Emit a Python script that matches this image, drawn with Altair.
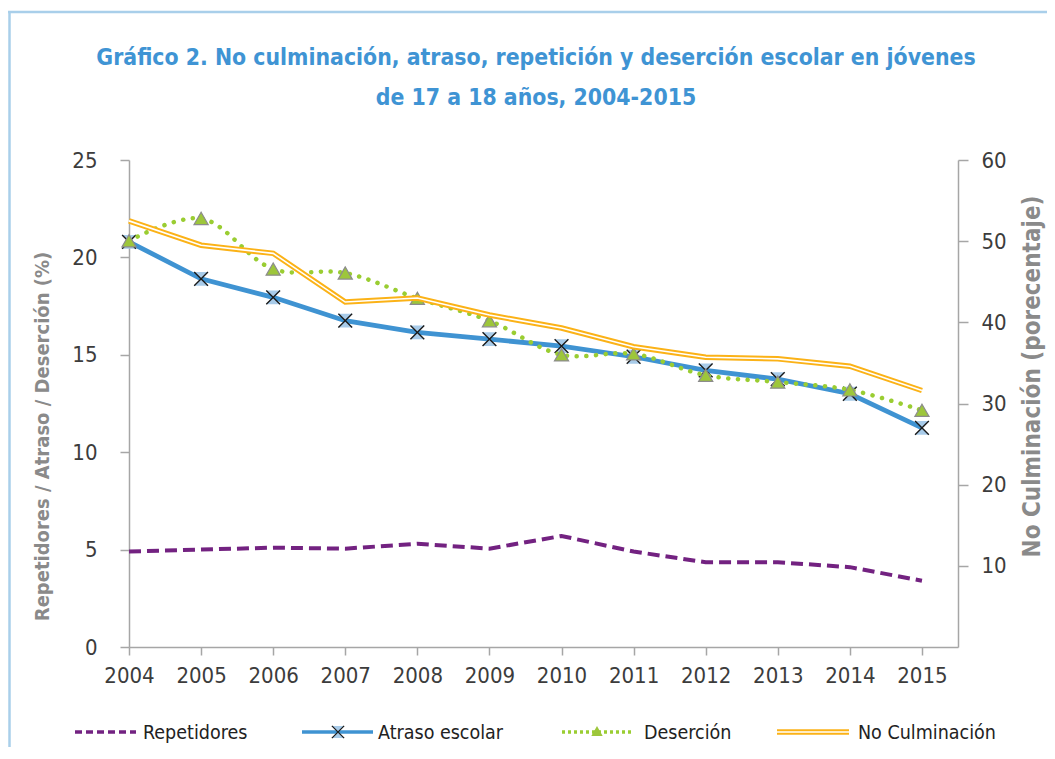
import altair as alt
import pandas as pd

# ---------------- data ----------------
years = [2004, 2005, 2006, 2007, 2008, 2009, 2010, 2011, 2012, 2013, 2014, 2015]
repetidores = [4.9, 5.0, 5.1, 5.05, 5.3, 5.05, 5.7, 4.9, 4.35, 4.35, 4.1, 3.4]
atraso = [20.8, 18.9, 17.95, 16.75, 16.15, 15.8, 15.45, 14.9, 14.2, 13.75, 13.0, 11.25]
desercion = [20.85, 22.0, 19.4, 19.2, 17.9, 16.75, 15.0, 15.05, 13.95, 13.6, 13.2, 12.15]
no_culminacion = [52.5, 49.5, 48.5, 42.5, 43.0, 40.9, 39.3, 37.0, 35.7, 35.5, 34.6, 31.6]

series_names = ["Repetidores", "Atraso escolar", "Deserción", "No Culminación"]
title_lines = [
    "Gráfico 2. No culminación, atraso, repetición y deserción escolar en jóvenes",
    "de 17 a 18 años, 2004-2015",
]
left_title = "Repetidores / Atraso / Deserción (%)"
right_title = "No Culminación (porecentaje)"
left_ticks = [0, 5, 10, 15, 20, 25]
right_ticks = [10, 20, 30, 40, 50, 60]

df = pd.DataFrame({
    "year": years,
    "rep": repetidores,
    "atr": atraso,
    "des": desercion,
    "noc": no_culminacion,
})

# ---------------- style ----------------
FONT = "Liberation Sans Narrow, Arial Narrow, DejaVu Sans Condensed, sans-serif"
AXIS_GRAY = "#a6a6a6"
LABEL_COLOR = "#3c3c3c"
TITLE_BLUE = "#3f94d4"
PURPLE = "#732281"
BLUE = "#3f93d2"
BLUE_FILL = "#a8cbe9"
GREEN = "#9acd32"
TRI_GREEN = "#9dc63b"
ORANGE = "#fbb217"
FRAME = "#a9cfea"

W, H = 829, 487

x_enc = alt.X(
    "year:Q",
    scale=alt.Scale(domain=[2004, 2015.5], nice=False, zero=False),
    axis=alt.Axis(
        values=years, format="d", title=None, grid=False,
        domainColor=AXIS_GRAY, domainWidth=1.5, tickColor=AXIS_GRAY, tickWidth=1.5,
        tickSize=8, labelFont=FONT, labelFontSize=22, labelColor=LABEL_COLOR,
        labelPadding=10, labelFlush=False,
    ),
)

left_scale = alt.Scale(domain=[0, 25], nice=False, zero=True)
left_axis = alt.Axis(
    orient="left", values=left_ticks, title=left_title, grid=False,
    domainColor=AXIS_GRAY, domainWidth=1.5, tickColor=AXIS_GRAY, tickWidth=1.5,
    tickSize=9, labelFont=FONT, labelFontSize=22, labelColor=LABEL_COLOR,
    labelPadding=23, titleFont=FONT, titleFontSize=20, titleFontWeight="bold",
    titleColor="#8a8a8a", titleAngle=270, titleAlign="center", titleBaseline="middle",
    titleX=-87, titleY=276,
)
right_scale = alt.Scale(domain=[0, 60], nice=False, zero=True)
right_axis = alt.Axis(
    orient="right", values=right_ticks, title=right_title, grid=False,
    domainColor=AXIS_GRAY, domainWidth=1.5, tickColor=AXIS_GRAY, tickWidth=1.5,
    tickSize=10, labelFont=FONT, labelFontSize=22, labelColor=LABEL_COLOR,
    labelPadding=13, titleFont=FONT, titleFontSize=24, titleFontWeight="bold",
    titleColor="#8a8a8a", titleAngle=270, titleAlign="center", titleBaseline="middle",
    titleX=74, titleY=216,
)


def yl(field):
    return alt.Y(f"{field}:Q", scale=left_scale, axis=left_axis)


base = alt.Chart(df)

rep_line = base.mark_line(color=PURPLE, strokeWidth=4, strokeDash=[12, 6]).encode(x=x_enc, y=yl("rep"))
atr_line = base.mark_line(color=BLUE, strokeWidth=4.8).encode(x=x_enc, y=yl("atr"))
atr_fill = base.mark_point(
    shape="M-1,-1L1,-1L0,0L1,1L-1,1L0,0Z", filled=True, fill=BLUE_FILL,
    strokeWidth=0, size=190, opacity=1,
).encode(x=x_enc, y=yl("atr"))
atr_x = base.mark_point(
    shape="M-1,-1L1,1M-1,1L1,-1", filled=False, stroke="#1a1a1a",
    strokeWidth=1.4, size=190, opacity=1,
).encode(x=x_enc, y=yl("atr"))
des_line = base.mark_line(
    color=GREEN, strokeWidth=4.5, strokeDash=[0.1, 9.6], strokeCap="round",
    interpolate="catmull-rom",
).encode(x=x_enc, y=yl("des"))
des_tri = base.mark_point(
    shape="triangle-up", filled=True, fill=TRI_GREEN, stroke="#8c8c8c",
    strokeWidth=1.2, size=200, opacity=1,
).encode(x=x_enc, y=yl("des"))

left_group = alt.layer(rep_line, atr_line, atr_fill, atr_x, des_line, des_tri)

yr = alt.Y("noc:Q", scale=right_scale, axis=right_axis)
noc_outer = base.mark_line(color=ORANGE, strokeWidth=5.5).encode(x=x_enc, y=yr)
noc_inner = base.mark_line(color="white", strokeWidth=1.6).encode(x=x_enc, y=yr)
right_group = alt.layer(noc_outer, noc_inner)

# ---------------- decorations: title, frame, legend ----------------
one = alt.Chart(pd.DataFrame({"k": [0]}))
frame_left = one.mark_rule(color=FRAME, strokeWidth=2.5).encode(
    x=alt.value(-119.5), x2=alt.value(-119.5), y=alt.value(-149), y2=alt.value(700))
frame_top = one.mark_rule(color=FRAME, strokeWidth=2.5).encode(
    x=alt.value(-125), x2=alt.value(1000), y=alt.value(-148), y2=alt.value(-148))

title_marks = []
for i, line in enumerate(title_lines):
    title_marks.append(one.mark_text(
        text=line, font=FONT, fontSize=22.8, fontWeight="bold", color=TITLE_BLUE,
        align="center", baseline="middle",
    ).encode(x=alt.value(407), y=alt.value(-102 + 40 * i)))

LY = 572
leg = []
# Repetidores
leg.append(one.mark_rule(color=PURPLE, strokeWidth=3.5, strokeDash=[7, 4]).encode(
    x=alt.value(-54), x2=alt.value(7), y=alt.value(LY)))
# Atraso escolar
leg.append(one.mark_rule(color=BLUE, strokeWidth=3.5).encode(
    x=alt.value(173), x2=alt.value(244), y=alt.value(LY)))
leg.append(one.mark_point(shape="M-1,-1L1,-1L0,0L1,1L-1,1L0,0Z", filled=True, fill=BLUE_FILL,
                          strokeWidth=0, size=150, opacity=1).encode(x=alt.value(209), y=alt.value(LY)))
leg.append(one.mark_point(shape="M-1,-1L1,1M-1,1L1,-1", filled=False, stroke="#1a1a1a",
                          strokeWidth=1.3, size=150, opacity=1).encode(x=alt.value(209), y=alt.value(LY)))
# Deserción
leg.append(one.mark_rule(color=GREEN, strokeWidth=3.5, strokeDash=[3, 3]).encode(
    x=alt.value(433), x2=alt.value(502), y=alt.value(LY)))
leg.append(one.mark_point(shape="triangle-up", filled=True, fill=TRI_GREEN, strokeWidth=0,
                          size=130, opacity=1).encode(x=alt.value(468), y=alt.value(LY - 1)))
# No Culminación
leg.append(one.mark_rule(color=ORANGE, strokeWidth=5.5).encode(
    x=alt.value(648), x2=alt.value(720), y=alt.value(LY)))
leg.append(one.mark_rule(color="white", strokeWidth=1.6).encode(
    x=alt.value(648), x2=alt.value(720), y=alt.value(LY)))

text_x = [14, 249, 515, 729]
for name, tx in zip(series_names, text_x):
    leg.append(one.mark_text(
        text=name, font=FONT, fontSize=19.5, color="#222222", align="left", baseline="middle",
    ).encode(x=alt.value(tx), y=alt.value(LY + 1)))

deco = alt.layer(frame_left, frame_top, *title_marks, *leg)

chart = (
    alt.layer(left_group, right_group, deco)
    .resolve_scale(y="independent")
    .properties(
        width=W, height=H,
        padding={"left": 121, "top": 152, "right": 89, "bottom": 100},
        autosize=alt.AutoSizeParams(type="none"),
    )
    .configure_view(stroke=None)
)

chart.save("out.html", embed_options={"renderer": "svg", "actions": False})
